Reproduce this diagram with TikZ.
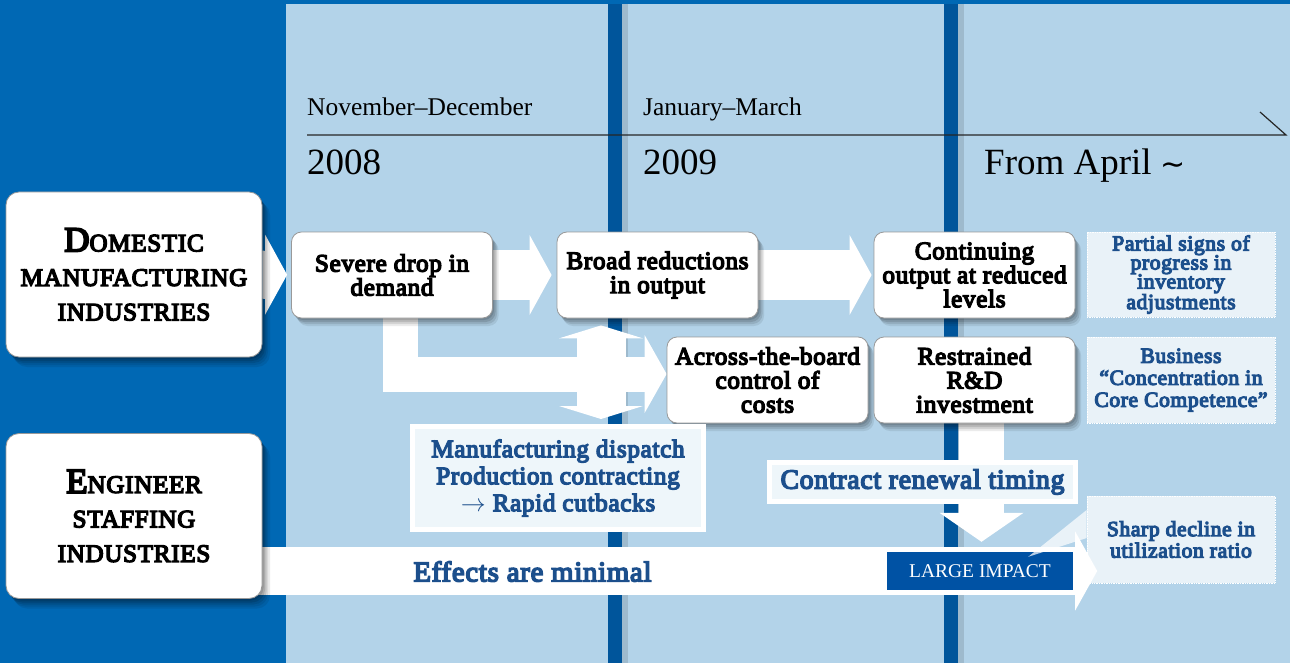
\documentclass[tikz,border=0pt]{standalone}
\usepackage{fontspec}
\setmainfont{Liberation Serif}[BoldFont={Liberation Serif}, BoldFeatures={FakeBold=5.5, LetterSpace=3}]
\newfontfamily\symfont{DejaVu Sans}
\usepackage{tikz}
\usetikzlibrary{arrows.meta,shadows,positioning,calc}

\definecolor{deepblue}{HTML}{0068B4}
\definecolor{paleblue}{HTML}{B3D3E9}
\definecolor{barblue}{HTML}{00559B}
\definecolor{inkblue}{HTML}{1C4F8C}
\definecolor{impactblue}{HTML}{0052A4}
\definecolor{notefill}{HTML}{EEF6FA}

\pgfdeclarelayer{back}
\pgfdeclarelayer{flows}
\pgfsetlayers{back,flows,main}

\tikzset{
  soft shadow/.style={
    drop shadow={shadow xshift=1.5pt, shadow yshift=-2pt, opacity=0.12, fill=black},
    drop shadow={shadow xshift=3pt, shadow yshift=-4pt, opacity=0.12, fill=black},
    drop shadow={shadow xshift=4.5pt, shadow yshift=-6pt, opacity=0.1, fill=black},
    drop shadow={shadow xshift=6pt, shadow yshift=-8pt, opacity=0.08, fill=black}},
  card/.style={draw=black!40, line width=0.8pt, fill=white, align=center, inner sep=0pt},
  evbox/.style={card, rounded corners=10pt, minimum width=201pt, minimum height=86pt,
    font=\bfseries\fontsize{25}{24}\selectfont, soft shadow},
  sidebox/.style={card, rounded corners=13pt, minimum width=256pt, minimum height=165pt,
    font=\bfseries\fontsize{25}{34.5}\selectfont, soft shadow,
    drop shadow={shadow xshift=8pt, shadow yshift=-10pt, opacity=0.08, fill=black}},
  note/.style={draw=white, densely dotted, line width=0.7pt, fill=white, fill opacity=0.72,
    text opacity=1, text=inkblue, align=center, inner sep=0pt, minimum width=188pt,
    minimum height=86pt, font=\bfseries\fontsize{21.5}{19}\selectfont},
  framed/.style={draw=white, line width=5pt, fill=notefill, text=inkblue, align=center,
    inner sep=0pt, font=\bfseries\fontsize{25}{27}\selectfont},
  period/.style={anchor=base west, inner sep=0pt, font=\fontsize{25.5}{26}\selectfont},
  year/.style={anchor=base west, inner sep=0pt, font=\fontsize{37}{37}\selectfont},
  flow/.style={draw=white, line width=#1}
}

\begin{document}
\begin{tikzpicture}[x=1pt,y=-1pt]
\useasboundingbox (0,0) rectangle (1290,663);

\begin{pgfonlayer}{back}
\fill[deepblue] (0,0) rectangle (1290,663);
\fill[paleblue] (286,4) rectangle (1290,663);
\foreach \x in {608,944} {
  \fill[barblue] (\x,4) rectangle ++(14,659);
  \fill[paleblue!88!black] (\x+14,4) rectangle ++(6,659);
}
\coordinate (tl0) at (307,135);
\coordinate (tl1) at (1286,135);
\coordinate (tl2) at (1260,112);
\draw[line width=1.2pt, black!85] (tl0) -- (tl1) -- (tl2);
\end{pgfonlayer}

\draw (307,116) node[period] (nov) {November--December};
\draw (643,116) node[period] (jan) {January--March};
\draw (307,175) node[year] (y08) {2008};
\draw (643,175) node[year] (y09) {2009};
\draw (984,175) node[year] (apr) {From April {\symfont\fontsize{30}{30}\selectfont ∼}};

\draw (134,274.5) node[sidebox] (dom) {{\fontsize{35}{34.5}\selectfont D}OMESTIC\\MANUFACTURING\\INDUSTRIES};
\draw (134,516) node[sidebox] (eng) {{\fontsize{35}{34.5}\selectfont E}NGINEER\\STAFFING\\INDUSTRIES};

\draw (392,275) node[evbox] (sev) {Severe drop in\\demand};
\draw (657.5,275) node[evbox] (broad) {Broad reductions\\in output};
\draw (974.5,275) node[evbox] (cont) {Continuing\\output at reduced\\levels};
\draw (767.5,380) node[evbox] (across) {Across-the-board\\control of\\costs};
\draw (974.5,380) node[evbox] (rnd) {Restrained\\R\&D\\investment};

\draw (558,478) node[framed, minimum width=291pt, minimum height=103pt] (disp) {Manufacturing dispatch\\Production contracting\\$\rightarrow$ Rapid cutbacks};
\draw (922.5,482) node[framed, minimum width=306pt, minimum height=39pt, font=\bfseries\fontsize{27.5}{27.5}\selectfont] (cren) {Contract renewal timing};

\draw (980,571) node[fill=impactblue, text=white, minimum width=186pt, minimum height=38pt, inner sep=0pt, font=\fontsize{19.5}{19.5}\selectfont] (impact) {LARGE IMPACT};
\draw (532.5,571.5) node[text=inkblue, font=\bfseries\fontsize{28.5}{28.5}\selectfont] (eff) {Effects are minimal};

\begin{pgfonlayer}{flows}
\path[flow=48pt,-{Triangle[length=22pt,width=80pt,line width=0pt 0]},shorten >=4pt] (dom) -- (sev);
\path[flow=50pt,-{Triangle[length=22pt,width=80pt,line width=0pt 0]},shorten >=5pt] (sev) -- (broad);
\path[flow=50pt,-{Triangle[length=22pt,width=80pt,line width=0pt 0]},shorten >=2pt] (broad) -- (cont);
\path[flow=35pt,-{Triangle[length=22pt,width=78pt,line width=0pt 0]}] ([xshift=8pt]sev.south) |- ([yshift=6pt]across.west);
\coordinate (dtop) at ([xshift=-56.5pt]broad.south);
\path[flow=49pt,{Triangle[length=13pt,width=84pt,line width=0pt 0]}-{Triangle[length=13pt,width=84pt,line width=0pt 0]},shorten <=7pt,shorten >=5pt] (dtop) -- (dtop |- disp.north);
\coordinate (dn) at ([xshift=7pt]rnd.south);
\path[flow=45pt,-{Triangle[length=29pt,width=84pt,line width=0pt 0]},shorten >=10pt] (dn) -- (dn |- impact.north);
\coordinate (bandL) at ([yshift=-55pt]eng.center);
\path[flow=48pt,-{Triangle[length=22pt,width=79pt,line width=0pt 0]}] (bandL) -- ([xshift=24pt]impact.east);
\end{pgfonlayer}

\draw (1181,274.5) node[note, minimum height=85pt] (part) {Partial signs of\\progress in\\inventory\\adjustments};
\draw (1181,380) node[note, font=\bfseries\fontsize{21.5}{22}\selectfont] (bus) {Business\\``Concentration in\\Core Competence''};
\draw (1181,539.5) node[note, minimum height=87pt, font=\bfseries\fontsize{21.5}{21.5}\selectfont] (sharp) {Sharp decline in\\utilization ratio};

\coordinate (ptip) at ([xshift=-45pt,yshift=-5pt]impact.north east);
\fill[white, fill opacity=0.72] ([yshift=29.5pt]sharp.west) -- (ptip) -- ([yshift=1.5pt]sharp.west) -- cycle;

\end{tikzpicture}
\end{document}
